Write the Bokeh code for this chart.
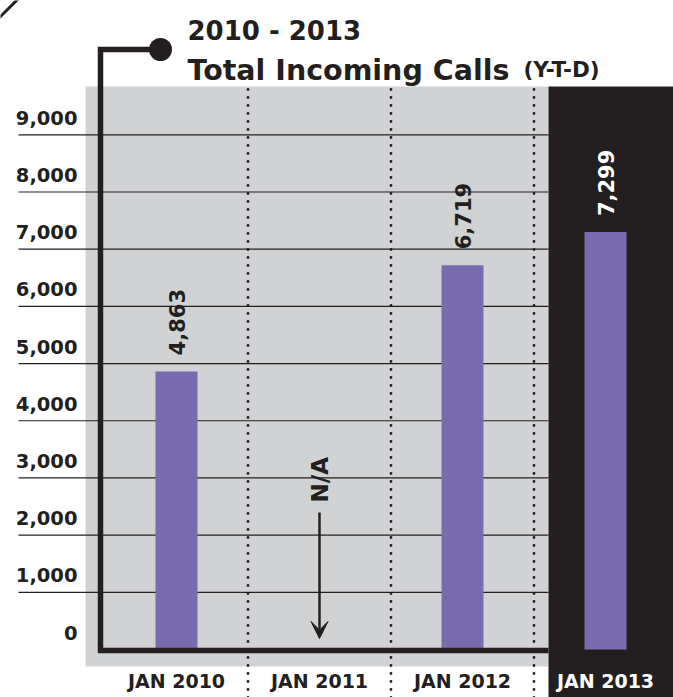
import math
from bokeh.plotting import figure
from bokeh.models import Range1d, Arrow, VeeHead
from bokeh.core.properties import value
from bokeh.embed import file_html
from bokeh.resources import INLINE

# ---------------- data ----------------
categories = ["JAN 2010", "JAN 2011", "JAN 2012", "JAN 2013"]
calls = [4863, None, 6719, 7299]          # None = not available
value_labels = ["4,863", "N/A", "6,719", "7,299"]
y_ticks = [0, 1000, 2000, 3000, 4000, 5000, 6000, 7000, 8000, 9000]
y_tick_labels = ["0", "1,000", "2,000", "3,000", "4,000", "5,000",
                 "6,000", "7,000", "8,000", "9,000"]
title_years = "2010 - 2013"
title_main = "Total Incoming Calls"
title_note = "(Y-T-D)"

# ---------------- styles / layout ----------------
INK = "#231f20"
GRAY = "#d1d2d4"
PURPLE = "#786caf"
FONT = value("DejaVu Sans")
W, H = 673, 697
OFF = 0  # where the figure sits on the photographed page

PX0, PX_STEP = 176.0, 143.0      # centre of first category, category pitch
PY0, PY_PER = 649.0, 0.057189    # baseline pixel, pixels per call


def X(px):
    return (px - PX0) / PX_STEP


def Y(py):
    return (PY0 - py) / PY_PER


p = figure(width=W, height=H,
           x_range=Range1d(X(OFF), X(OFF + W)), y_range=Range1d(Y(OFF + H), Y(OFF)),
           output_backend="svg", toolbar_location=None,
           x_axis_location=None, y_axis_location=None,
           min_border=0, outline_line_color=None,
           background_fill_color="white", border_fill_color="white")
p.grid.visible = False
p.title.visible = False

# backgrounds
p.quad(left=[X(85)], right=[X(548)], bottom=[Y(666)], top=[Y(86)],
       fill_color=GRAY, line_color=None)
p.quad(left=[X(548)], right=[X(720)], bottom=[Y(740)], top=[Y(86)],
       fill_color=INK, line_color=None)

# corner decoration stroke
p.line(x=[X(-6), X(20)], y=[Y(22), Y(-4)], line_width=3, line_color=INK)

# gridlines
grid_vals = y_ticks[1:]
p.segment(x0=[X(18)] * len(grid_vals), x1=[X(548)] * len(grid_vals),
          y0=grid_vals, y1=grid_vals, line_color=INK, line_width=1.2)

# dotted separators between categories
seps = [i + 0.5 for i in range(len(categories) - 1)]
p.segment(x0=seps, x1=seps, y0=[Y(89)] * len(seps), y1=[Y(720)] * len(seps),
          line_color=INK, line_width=2.8, line_dash="0 8", line_cap="round")

# bars
bx = [i for i, v in enumerate(calls) if v is not None]
bv = [v for v in calls if v is not None]
p.vbar(x=bx, top=bv, bottom=0, width=42 / PX_STEP,
       fill_color=PURPLE, line_color=None)

# frame connector line + dot
p.line(x=[X(160), X(100), X(100), X(548)], y=[Y(49), Y(49), Y(650), Y(650)],
       line_width=5.5, line_color=INK, line_join="miter")
p.scatter(x=[X(160)], y=[Y(49)], size=23, fill_color=INK, line_color=None)

# y tick labels
p.text(x=[X(77)] * len(y_ticks), y=y_ticks, text=y_tick_labels,
       text_align="right", text_baseline="middle", y_offset=-17,
       text_font=FONT, text_font_style="bold", text_font_size="19.5px",
       text_color=INK)

# value labels (rotated)
lab_colors = [INK if i < 3 else "white" for i in bx]
p.text(x=bx, y=bv, text=[value_labels[i] for i in bx], angle=math.pi / 2,
       text_align="left", text_baseline="middle", y_offset=-16,
       text_font=FONT, text_font_style="bold", text_font_size="21px",
       text_color=lab_colors)

# N/A marker for missing category
na = [i for i, v in enumerate(calls) if v is None]
p.text(x=na, y=[Y(502)] * len(na), text=[value_labels[i] for i in na],
       angle=math.pi / 2, text_align="left", text_baseline="middle",
       text_font=FONT, text_font_style="bold", text_font_size="23px",
       text_color=INK)
for i in na:
    p.add_layout(Arrow(end=VeeHead(size=17, fill_color=INK, line_color=INK),
                       x_start=i, y_start=Y(512), x_end=i, y_end=Y(638),
                       line_width=2.5, line_color=INK))

# category labels
cat_colors = [INK, INK, INK, "white"]
p.text(x=list(range(len(categories))), y=[Y(681)] * len(categories),
       text=categories, text_align="center", text_baseline="middle",
       y_offset=-1,
       text_font=FONT, text_font_style="bold", text_font_size="19px",
       text_color=cat_colors)

# titles
p.text(x=[X(187)], y=[Y(30)], text=[title_years], text_align="left",
       text_baseline="alphabetic", text_font=FONT, text_font_style="bold",
       text_font_size="26px", text_color=INK)
p.text(x=[X(187)], y=[Y(70)], text=[title_main], text_align="left",
       text_baseline="alphabetic", text_font=FONT, text_font_style="bold",
       text_font_size="28.5px", text_color=INK)
p.text(x=[X(523)], y=[Y(69)], text=[title_note], text_align="left",
       text_baseline="alphabetic", text_font=FONT, text_font_style="bold",
       text_font_size="21.5px", text_color=INK)

open("out.html", "w").write(file_html(p, INLINE))
